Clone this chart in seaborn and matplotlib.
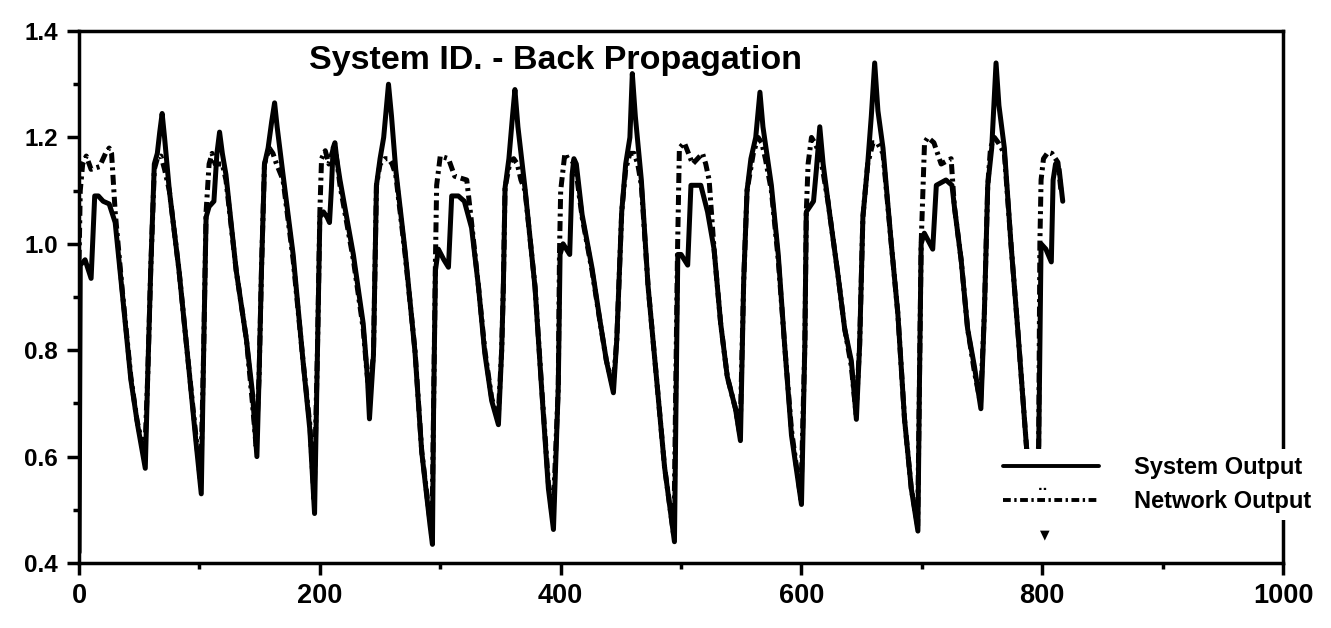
import matplotlib
matplotlib.use("Agg")
import matplotlib.pyplot as plt
import numpy as np
import pandas as pd
import seaborn as sns
from matplotlib.ticker import MultipleLocator

# ---------------- data ----------------
sys_x = [0, 1, 5, 10, 13, 16, 20, 25, 30, 36, 43, 48.6, 55,
         57, 59.5, 62.5, 65, 67, 69, 71, 75, 83, 91, 97, 101.5,
         103.5, 105.5, 108, 112, 114.5, 116.7, 119, 122, 130.5, 139, 144, 147.7,
         149.5, 151.5, 154, 157, 160, 162.4, 164.5, 169.4, 177.8, 186, 191.7, 195.6,
         198, 200, 203, 206, 208, 209.5, 211, 212.5, 214, 216.7, 227.8, 236, 239.5, 241.2,
         244.5, 247, 250, 253, 257, 259.5, 263, 270.8, 279, 284.6, 291.5, 293.5,
         294.5, 296, 298.4, 303, 306.8, 309.5, 315, 320, 326, 331.7, 337, 342.7, 348.3,
         351, 352.4, 353.8, 357, 360, 362, 364.5, 370.4, 378.7, 384.2, 389.8, 394,
         398, 399.5, 402, 407.5, 409.5, 411, 413, 417.8, 426, 432.9, 438, 443.8,
         446.6, 450.7, 454, 457.5, 459.5, 462, 467, 472.6, 479.5, 486.3, 494.5,
         495.9, 497.3, 500, 505.5, 508.2, 516.4, 522, 527.4, 532.9, 538.4, 545.2, 549.3,
         552, 554.8, 558, 562, 565.5, 568, 575, 580.7, 586, 591.7, 600,
         602.8, 604, 607, 610, 612.4, 615.2, 618, 622, 630.4, 635.9, 641.4, 645.6,
         648.3, 651, 655, 658, 660.8, 663.5, 667.7, 674.6, 680, 685.6, 691.2, 696.7,
         698, 699.4, 702, 709, 712, 720, 725, 727, 732.6, 738, 743.6, 749,
         751.9, 754.7, 758, 761.6, 764, 768.5, 774, 779.6, 786.5, 791,
         797, 799, 803, 807.5, 809, 811, 814, 817]
sys_y = [0.42, 0.96, 0.97, 0.935, 1.09, 1.09, 1.08, 1.075, 1.04, 0.905, 0.745, 0.66, 0.578,
         0.75, 0.95, 1.15, 1.17, 1.21, 1.245, 1.20, 1.10, 0.95, 0.77, 0.63, 0.53,
         0.80, 1.05, 1.07, 1.08, 1.17, 1.21, 1.17, 1.13, 0.95, 0.82, 0.72, 0.60,
         0.75, 0.95, 1.15, 1.18, 1.23, 1.265, 1.22, 1.13, 0.98, 0.78, 0.65, 0.493,
         0.80, 1.05, 1.06, 1.05, 1.04, 1.10, 1.18, 1.19, 1.16, 1.12, 0.98, 0.85, 0.75, 0.671,
         0.79, 1.11, 1.16, 1.20, 1.30, 1.24, 1.14, 0.986, 0.797, 0.609, 0.471, 0.435,
         0.70, 0.95, 0.99, 0.97, 0.956, 1.09, 1.09, 1.08, 1.03, 0.92, 0.794, 0.705, 0.66,
         0.80, 0.92, 1.105, 1.16, 1.24, 1.29, 1.22, 1.104, 0.918, 0.727, 0.54, 0.463,
         0.73, 0.98, 1.0, 0.98, 1.13, 1.16, 1.15, 1.055, 0.955, 0.852, 0.78, 0.72,
         0.82, 1.06, 1.15, 1.20, 1.32, 1.24, 1.12, 0.92, 0.75, 0.58, 0.44,
         0.72, 0.98, 0.98, 0.96, 1.11, 1.11, 1.06, 0.99, 0.85, 0.75, 0.69, 0.63,
         0.93, 1.10, 1.16, 1.20, 1.285, 1.22, 1.11, 0.98, 0.81, 0.64, 0.51,
         0.81, 1.06, 1.07, 1.08, 1.14, 1.22, 1.15, 1.08, 0.94, 0.84, 0.78, 0.67,
         0.81, 1.05, 1.15, 1.24, 1.34, 1.25, 1.18, 1.0, 0.87, 0.67, 0.54, 0.46,
         0.74, 1.0, 1.02, 0.99, 1.11, 1.12, 1.11, 1.07, 0.97, 0.84, 0.77, 0.69,
         0.87, 1.11, 1.18, 1.34, 1.26, 1.18, 1.0, 0.84, 0.63, 0.50,
         0.61, 1.0, 0.99, 0.966, 1.12, 1.15, 1.14, 1.08]

net_x = [0, 1, 3, 6, 10, 17, 22, 25, 27, 30, 36, 43, 48, 54.5,
         57, 59.5, 62.5, 65, 68, 71, 75, 83, 91, 97, 101,
         103.5, 105.5, 108, 110.5, 113, 116, 119, 122, 130.5, 139, 144, 147,
         149.5, 151.5, 154, 158, 161, 164, 169.4, 177.8, 186, 191.7, 195.2,
         198, 200, 201.4, 204.5, 207.5, 210, 212.5, 214.5, 216.7, 227.8, 236, 239, 240.8,
         244.5, 247, 250, 254, 257, 260, 263, 270.8, 279, 284.6, 291.5, 293,
         294.5, 296, 297, 300, 306.8, 312, 322, 326, 331.7, 337, 342.7, 348,
         351, 352.4, 353.8, 358, 361, 364, 367, 370.4, 378.7, 384.2, 389.8, 393.5,
         398, 399, 400, 403.5, 406, 409.5, 412, 417.8, 426, 432.9, 438, 443.5,
         446.6, 450.7, 454, 457.5, 461, 464, 467, 472.6, 479.5, 486.3, 494,
         495.5, 497, 498.6, 502.7, 509.6, 517.8, 520.5, 523.3, 527.4, 532.9, 538.4, 545.2, 549,
         552, 554.8, 560, 564, 567, 570, 575, 580.7, 586, 591.7, 599.5,
         602.8, 604, 605.5, 608.3, 611, 613, 616, 622, 630.4, 635.9, 641.4, 645.3,
         648.3, 651, 655, 659.4, 663, 667.7, 674.6, 680, 685.6, 691.2, 696.5,
         698, 699.4, 702.2, 705, 710, 716, 724.3, 727, 732.6, 738, 743.6, 748.7,
         751.9, 754.7, 757, 760.2, 763.5, 768.5, 774, 779.6, 786.5, 791,
         797, 798, 799, 801, 804.7, 808, 813, 815.5]
net_y = [0.97, 1.10, 1.15, 1.165, 1.14, 1.145, 1.17, 1.18, 1.17, 1.06, 0.91, 0.75, 0.67, 0.60,
         0.75, 0.95, 1.14, 1.16, 1.165, 1.14, 1.10, 0.95, 0.77, 0.64, 0.55,
         0.80, 1.06, 1.15, 1.17, 1.15, 1.15, 1.15, 1.12, 0.95, 0.82, 0.70, 0.62,
         0.75, 0.95, 1.15, 1.18, 1.17, 1.15, 1.12, 0.97, 0.78, 0.66, 0.52,
         0.80, 1.06, 1.16, 1.175, 1.15, 1.17, 1.185, 1.15, 1.11, 0.97, 0.84, 0.76, 0.72,
         0.79, 1.11, 1.15, 1.16, 1.16, 1.15, 1.13, 0.98, 0.80, 0.61, 0.48, 0.45,
         0.70, 0.97, 1.11, 1.165, 1.16, 1.127, 1.12, 1.04, 0.92, 0.80, 0.71, 0.67,
         0.80, 0.92, 1.105, 1.155, 1.16, 1.15, 1.12, 1.10, 0.92, 0.73, 0.55, 0.48,
         0.73, 0.98, 1.10, 1.17, 1.16, 1.155, 1.15, 1.05, 0.95, 0.85, 0.78, 0.73,
         0.82, 1.06, 1.14, 1.17, 1.17, 1.15, 1.11, 0.92, 0.75, 0.58, 0.45,
         0.72, 0.98, 1.18, 1.19, 1.15, 1.17, 1.15, 1.12, 0.99, 0.85, 0.75, 0.69, 0.64,
         0.93, 1.10, 1.17, 1.20, 1.19, 1.16, 1.10, 0.97, 0.81, 0.65, 0.52,
         0.81, 1.06, 1.15, 1.20, 1.19, 1.18, 1.16, 1.08, 0.94, 0.84, 0.77, 0.68,
         0.81, 1.05, 1.15, 1.19, 1.19, 1.17, 1.0, 0.87, 0.67, 0.54, 0.47,
         0.74, 1.0, 1.19, 1.20, 1.19, 1.15, 1.16, 1.07, 0.97, 0.84, 0.76, 0.70,
         0.87, 1.11, 1.18, 1.20, 1.19, 1.17, 1.0, 0.84, 0.63, 0.50,
         0.62, 1.0, 1.12, 1.16, 1.172, 1.17, 1.153, 1.10]

series_names = ["System Output", "Network Output"]
x_ticks = [0, 200, 400, 600, 800, 1000]
y_ticks = [0.4, 0.6, 0.8, 1.0, 1.2, 1.4]
title_text = "System ID. - Back Propagation"

# ---------------- style ----------------
sns.set_theme(style="white")
plt.rcParams['font.family'] = ['Liberation Sans', 'DejaVu Sans']
plt.rcParams['axes.edgecolor'] = 'black'
plt.rcParams['axes.linewidth'] = 2.5
plt.rcParams['text.color'] = 'black'

fig = plt.figure(figsize=(13.31, 6.28), dpi=100)
ax = fig.add_axes([0.0594, 0.1035, 0.9046, 0.8471])

df_sys = pd.DataFrame({"x": sys_x, "y": sys_y})
df_net = pd.DataFrame({"x": net_x, "y": net_y})

sns.lineplot(data=df_sys, x="x", y="y", ax=ax, color="black", linewidth=3.6,
             estimator=None, sort=False, label=series_names[0])
sns.lineplot(data=df_net, x="x", y="y", ax=ax, color="black", linewidth=3.6,
             estimator=None, sort=False, label=series_names[1])
ax.lines[1].set_linestyle((0, (2.0, 0.9, 0.6, 0.9)))

ax.set_xlim(0, 1000)
ax.set_ylim(0.4, 1.4)
ax.set_xlabel("")
ax.set_ylabel("")
ax.set_xticks(x_ticks)
ax.set_xticklabels([str(t) for t in x_ticks], fontsize=19.5, fontweight='bold')
ax.set_yticks(y_ticks)
ax.set_yticklabels([f"{t:.1f}" for t in y_ticks], fontsize=17.5, fontweight='bold')
ax.xaxis.set_minor_locator(MultipleLocator(100))
ax.yaxis.set_minor_locator(MultipleLocator(0.1))
ax.tick_params(axis='both', which='major', direction='out', length=8.5, width=2.5,
               color='black', labelcolor='black')
ax.tick_params(axis='both', which='minor', direction='out', length=4.5, width=2.5,
               color='black')
ax.tick_params(axis='x', which='major', pad=6)
ax.tick_params(axis='y', which='major', pad=6.5)
ax.tick_params(bottom=True, left=True, top=False, right=False)
ax.tick_params(axis='both', which='minor', bottom=True, left=True, top=False, right=False)
for s in ax.spines.values():
    s.set_visible(True)
    s.set_color('black')
    s.set_linewidth(2.5)
ax.grid(False)

ax.text(0.396, 0.9295, title_text, transform=ax.transAxes, ha='center', va='baseline',
        fontsize=24.5, fontweight='bold', color='black')

leg = ax.legend(loc='upper left', bbox_to_anchor=(0.761, 0.2143), frameon=True,
                fancybox=False, edgecolor='white', facecolor='white', framealpha=1,
                prop={'weight': 'bold', 'size': 17}, handlelength=4.1,
                handletextpad=1.48, labelspacing=0.45, borderpad=0.31, borderaxespad=0)
leg.get_frame().set_linewidth(0)
leg.set_zorder(6)
for h in leg.get_lines():
    h.set_linewidth(2.8)
for t in leg.get_texts():
    t.set_color('black')

ax.text(0.801, 0.139, "··", transform=ax.transAxes, ha='center', va='center',
        fontsize=12, fontweight='bold', color='black', zorder=10)
ax.text(0.802, 0.0526, "▼", transform=ax.transAxes, ha='center', va='center',
        fontsize=9, family=['DejaVu Sans'], color='black', zorder=10)

fig.savefig("out.png", dpi=100, facecolor='white')
